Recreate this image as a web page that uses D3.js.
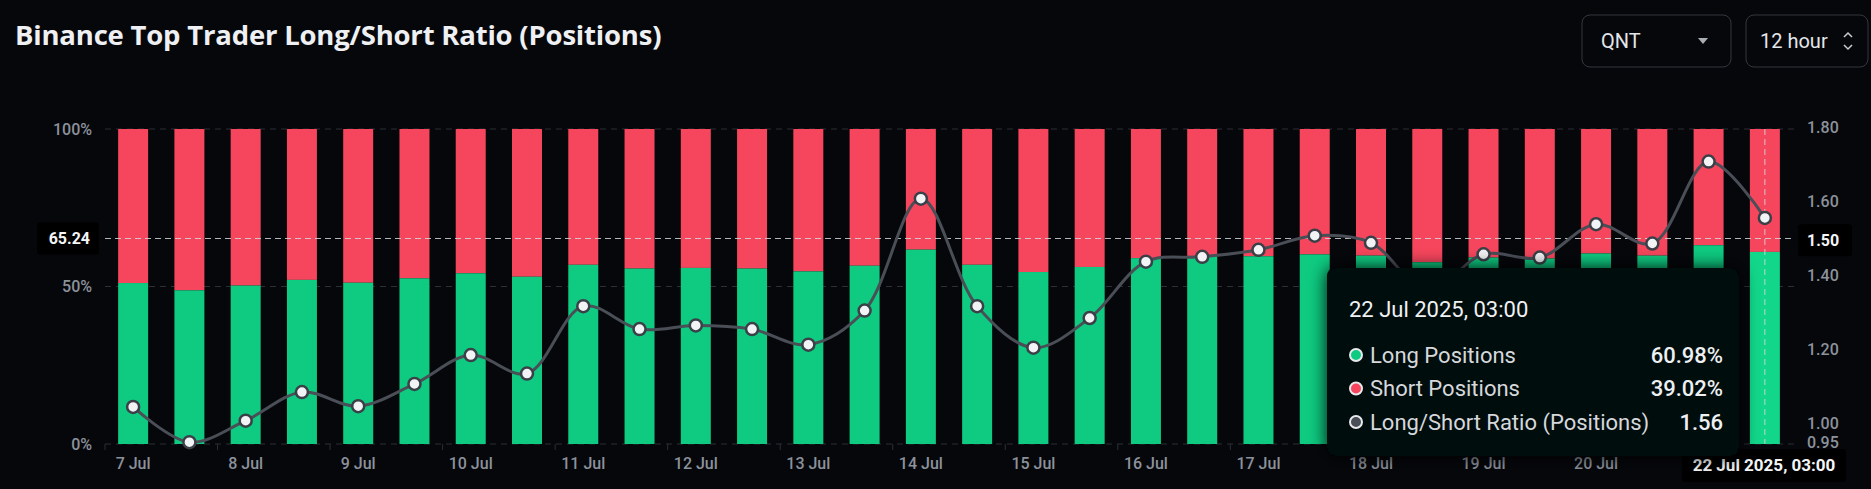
<!DOCTYPE html>
<meta charset="utf-8">
<style>
body { margin: 0; background: #06070b; }
svg { display: block; font-family: Roboto, sans-serif; }
.title { font-family: "Open Sans", sans-serif; font-weight: 700; font-size: 27.5px; fill: #eef0f3; letter-spacing: -0.2px; }
.tick-label { fill: #8c929b; font-size: 16px; font-weight: 500; }
.grid { stroke: #2c2f36; stroke-width: 1; stroke-dasharray: 6 5; }
.cross { stroke: #d5d8dd; stroke-width: 1; stroke-dasharray: 6 4; stroke-opacity: 0.85; }
.ratio-line { fill: none; stroke: #4a4e57; stroke-width: 3px; }
.point { fill: #f2f3f5; stroke: #3b3f47; stroke-width: 2.5px; }
.ctl { fill: #06070b; stroke: #34373e; stroke-width: 1; }
.ctl-text { fill: #e4e6ea; font-size: 20px; }
.tip-label { fill: #d6d8dc; font-size: 22px; }
.tip-value { fill: #eef0f2; font-size: 22px; font-weight: 500; }
</style>
<svg width="1871" height="489"></svg>
<script src="https://cdn.jsdelivr.net/npm/d3@7"></script>
<script>
// long share (%) per 12h bar, 7 Jul -> 22 Jul 03:00
var longPct = [51.1, 48.8, 50.3, 52.1, 51.2, 52.6, 54.2, 53.1, 56.9, 55.7,
               55.9, 55.7, 54.8, 56.6, 61.7, 56.9, 54.6, 56.2, 59.0, 59.7,
               59.6, 60.2, 59.8, 57.7, 59.2, 58.9, 60.5, 59.8, 63.1, 60.98];
var ratio = [1.05, 0.955, 1.013, 1.09, 1.052, 1.112, 1.19, 1.14, 1.322, 1.26,
             1.27, 1.26, 1.218, 1.31, 1.612, 1.322, 1.21, 1.29, 1.442, 1.455,
             1.474, 1.512, 1.493, 1.364, 1.462, 1.453, 1.543, 1.491, 1.712, 1.56];
// one label every 2 bars; the 21 Jul one sits under the hover tag
var dayLabels = ["7 Jul", "8 Jul", "9 Jul", "10 Jul", "11 Jul", "12 Jul", "13 Jul", "14 Jul",
                 "15 Jul", "16 Jul", "17 Jul", "18 Jul", "19 Jul", "20 Jul"];
var leftTicks = [0, 50, 100];
var rightTicks = [0.95, 1.00, 1.20, 1.40, 1.60, 1.80];
var hover = 29, hoverLabel = "22 Jul 2025, 03:00", crossPct = 65.24, crossRatio = 1.50;

var green = "#0ecb81", red = "#f6465d";

var svg = d3.select("svg");

var x = d3.scaleBand()
    .domain(d3.range(longPct.length))
    .range([105, 1793])
    .paddingInner(0.467)
    .paddingOuter(0.2335);
var bw = x.bandwidth(), step = x.step();
var cx = function(i) { return x(i) + bw / 2; };

var yL = d3.scaleLinear().domain([0, 100]).range([444, 129]);
var yR = d3.scaleLinear().domain([0.95, 1.80]).range([444, 129]);

var defs = svg.append("defs");
var f = defs.append("filter").attr("id", "shadow")
    .attr("x", "-20%").attr("y", "-20%").attr("width", "140%").attr("height", "140%");
f.append("feDropShadow").attr("dx", 0).attr("dy", 0)
    .attr("stdDeviation", 9).attr("flood-color", "#000").attr("flood-opacity", 0.95);

// title + controls
svg.append("text").attr("class", "title").attr("x", 15).attr("y", 45)
    .text("Binance Top Trader Long/Short Ratio (Positions)");

svg.append("rect").attr("class", "ctl").attr("x", 1582).attr("y", 15)
    .attr("width", 149).attr("height", 52).attr("rx", 8);
svg.append("text").attr("class", "ctl-text").attr("x", 1601).attr("y", 48).text("QNT");
svg.append("path").attr("d", "M1698,38 L1708,38 L1703,44 Z").attr("fill", "#a9adb4");

svg.append("rect").attr("class", "ctl").attr("x", 1746).attr("y", 15)
    .attr("width", 122).attr("height", 52).attr("rx", 8);
svg.append("text").attr("class", "ctl-text").attr("x", 1760).attr("y", 48).text("12 hour");
svg.append("path").attr("d", "M1844,37 L1848,33 L1852,37 M1844,45 L1848,49 L1852,45")
    .attr("fill", "none").attr("stroke", "#c9ccd1").attr("stroke-width", 1.5);

// grid
svg.append("g").selectAll("line").data(leftTicks).join("line")
    .attr("class", "grid")
    .attr("x1", 105).attr("x2", 1795)
    .attr("y1", function(d) { return yL(d); }).attr("y2", function(d) { return yL(d); });

// bottom tick marks at day boundaries
svg.append("g").selectAll("line").data(d3.range(0, longPct.length, 2)).join("line")
    .attr("x1", function(i) { return cx(i) - step / 2; })
    .attr("x2", function(i) { return cx(i) - step / 2; })
    .attr("y1", 444).attr("y2", 450)
    .attr("stroke", "#2c2f36");

// bars
var bars = svg.append("g");
bars.selectAll(".short").data(longPct).join("rect")
    .attr("x", function(d, i) { return x(i); })
    .attr("width", bw)
    .attr("y", yL(100))
    .attr("height", function(d) { return yL(d) - yL(100); })
    .attr("fill", red);
bars.selectAll(".long").data(longPct).join("rect")
    .attr("x", function(d, i) { return x(i); })
    .attr("width", bw)
    .attr("y", function(d) { return yL(d); })
    .attr("height", function(d) { return yL(0) - yL(d); })
    .attr("fill", function(d, i) { return i === hover ? "#12d68a" : green; });

// crosshair
svg.append("line").attr("class", "cross")
    .attr("x1", 105).attr("x2", 1795)
    .attr("y1", yL(crossPct)).attr("y2", yL(crossPct));
svg.append("line").attr("class", "cross")
    .attr("x1", cx(hover)).attr("x2", cx(hover))
    .attr("y1", yL(100)).attr("y2", yL(0));

// ratio line
var line = d3.line()
    .x(function(d, i) { return cx(i); })
    .y(function(d) { return yR(d); })
    .curve(d3.curveCatmullRom.alpha(0.5));
svg.append("path").datum(ratio).attr("class", "ratio-line").attr("d", line);
svg.append("g").selectAll("circle").data(ratio).join("circle")
    .attr("class", "point")
    .attr("cx", function(d, i) { return cx(i); })
    .attr("cy", function(d) { return yR(d); })
    .attr("r", 6);

// axes labels
svg.append("g").selectAll("text").data(leftTicks).join("text")
    .attr("class", "tick-label")
    .attr("x", 92).attr("y", function(d) { return yL(d); })
    .attr("dy", "0.35em").attr("text-anchor", "end")
    .text(function(d) { return d + "%"; });

svg.append("g").selectAll("text").data(rightTicks).join("text")
    .attr("class", "tick-label")
    .attr("x", 1807).attr("y", function(d) { return yR(d) - 2; })
    .attr("dy", "0.35em")
    .text(function(d) { return d.toFixed(2); });

svg.append("g").selectAll("text").data(dayLabels).join("text")
    .attr("class", "tick-label")
    .attr("x", function(d, k) { return cx(k * 2); })
    .attr("y", 469)
    .attr("text-anchor", "middle")
    .text(function(d) { return d; });

// crosshair labels
function tag(x0, y0, w, h, tx, anchor, txt, size) {
  svg.append("rect").attr("x", x0).attr("y", y0).attr("width", w).attr("height", h)
      .attr("rx", 3).attr("fill", "#000");
  svg.append("text").attr("x", tx).attr("y", y0 + h / 2).attr("dy", "0.35em")
      .attr("text-anchor", anchor).attr("fill", "#f4f5f7")
      .attr("font-size", size).attr("font-weight", 700).text(txt);
}
tag(37, yL(crossPct) - 16, 62, 32, 90, "end", crossPct.toFixed(2), 16);
tag(1798, yR(crossRatio) - 16, 54, 32, 1807, "start", crossRatio.toFixed(2), 16);
tag(1682, 449, 164, 33, 1764, "middle", hoverLabel, 17);

// tooltip
var tip = svg.append("g");
tip.append("rect").attr("x", 1327).attr("y", 268).attr("width", 412).attr("height", 188)
    .attr("rx", 8).attr("fill", "#06070a").attr("filter", "url(#shadow)");
tip.append("text").attr("x", 1349).attr("y", 317).attr("fill", "#f0f1f3")
    .attr("font-size", 22).text(hoverLabel);

var rows = [
  {name: "Long Positions", color: green, value: longPct[hover].toFixed(2) + "%"},
  {name: "Short Positions", color: red, value: (100 - longPct[hover]).toFixed(2) + "%"},
  {name: "Long/Short Ratio (Positions)", color: "#4a4e57", value: ratio[hover].toFixed(2)}
];
var row = tip.selectAll(".row").data(rows).join("g")
    .attr("transform", function(d, i) { return "translate(0," + (355 + i * 33.5) + ")"; });
row.append("circle").attr("cx", 1356).attr("cy", 0).attr("r", 6)
    .attr("fill", function(d) { return d.color; })
    .attr("stroke", "#e8e9ec").attr("stroke-width", 2);
row.append("text").attr("class", "tip-label").attr("x", 1370).attr("dy", "0.35em")
    .text(function(d) { return d.name; });
row.append("text").attr("class", "tip-value").attr("x", 1723).attr("dy", "0.35em")
    .attr("text-anchor", "end")
    .text(function(d) { return d.value; });
</script>
